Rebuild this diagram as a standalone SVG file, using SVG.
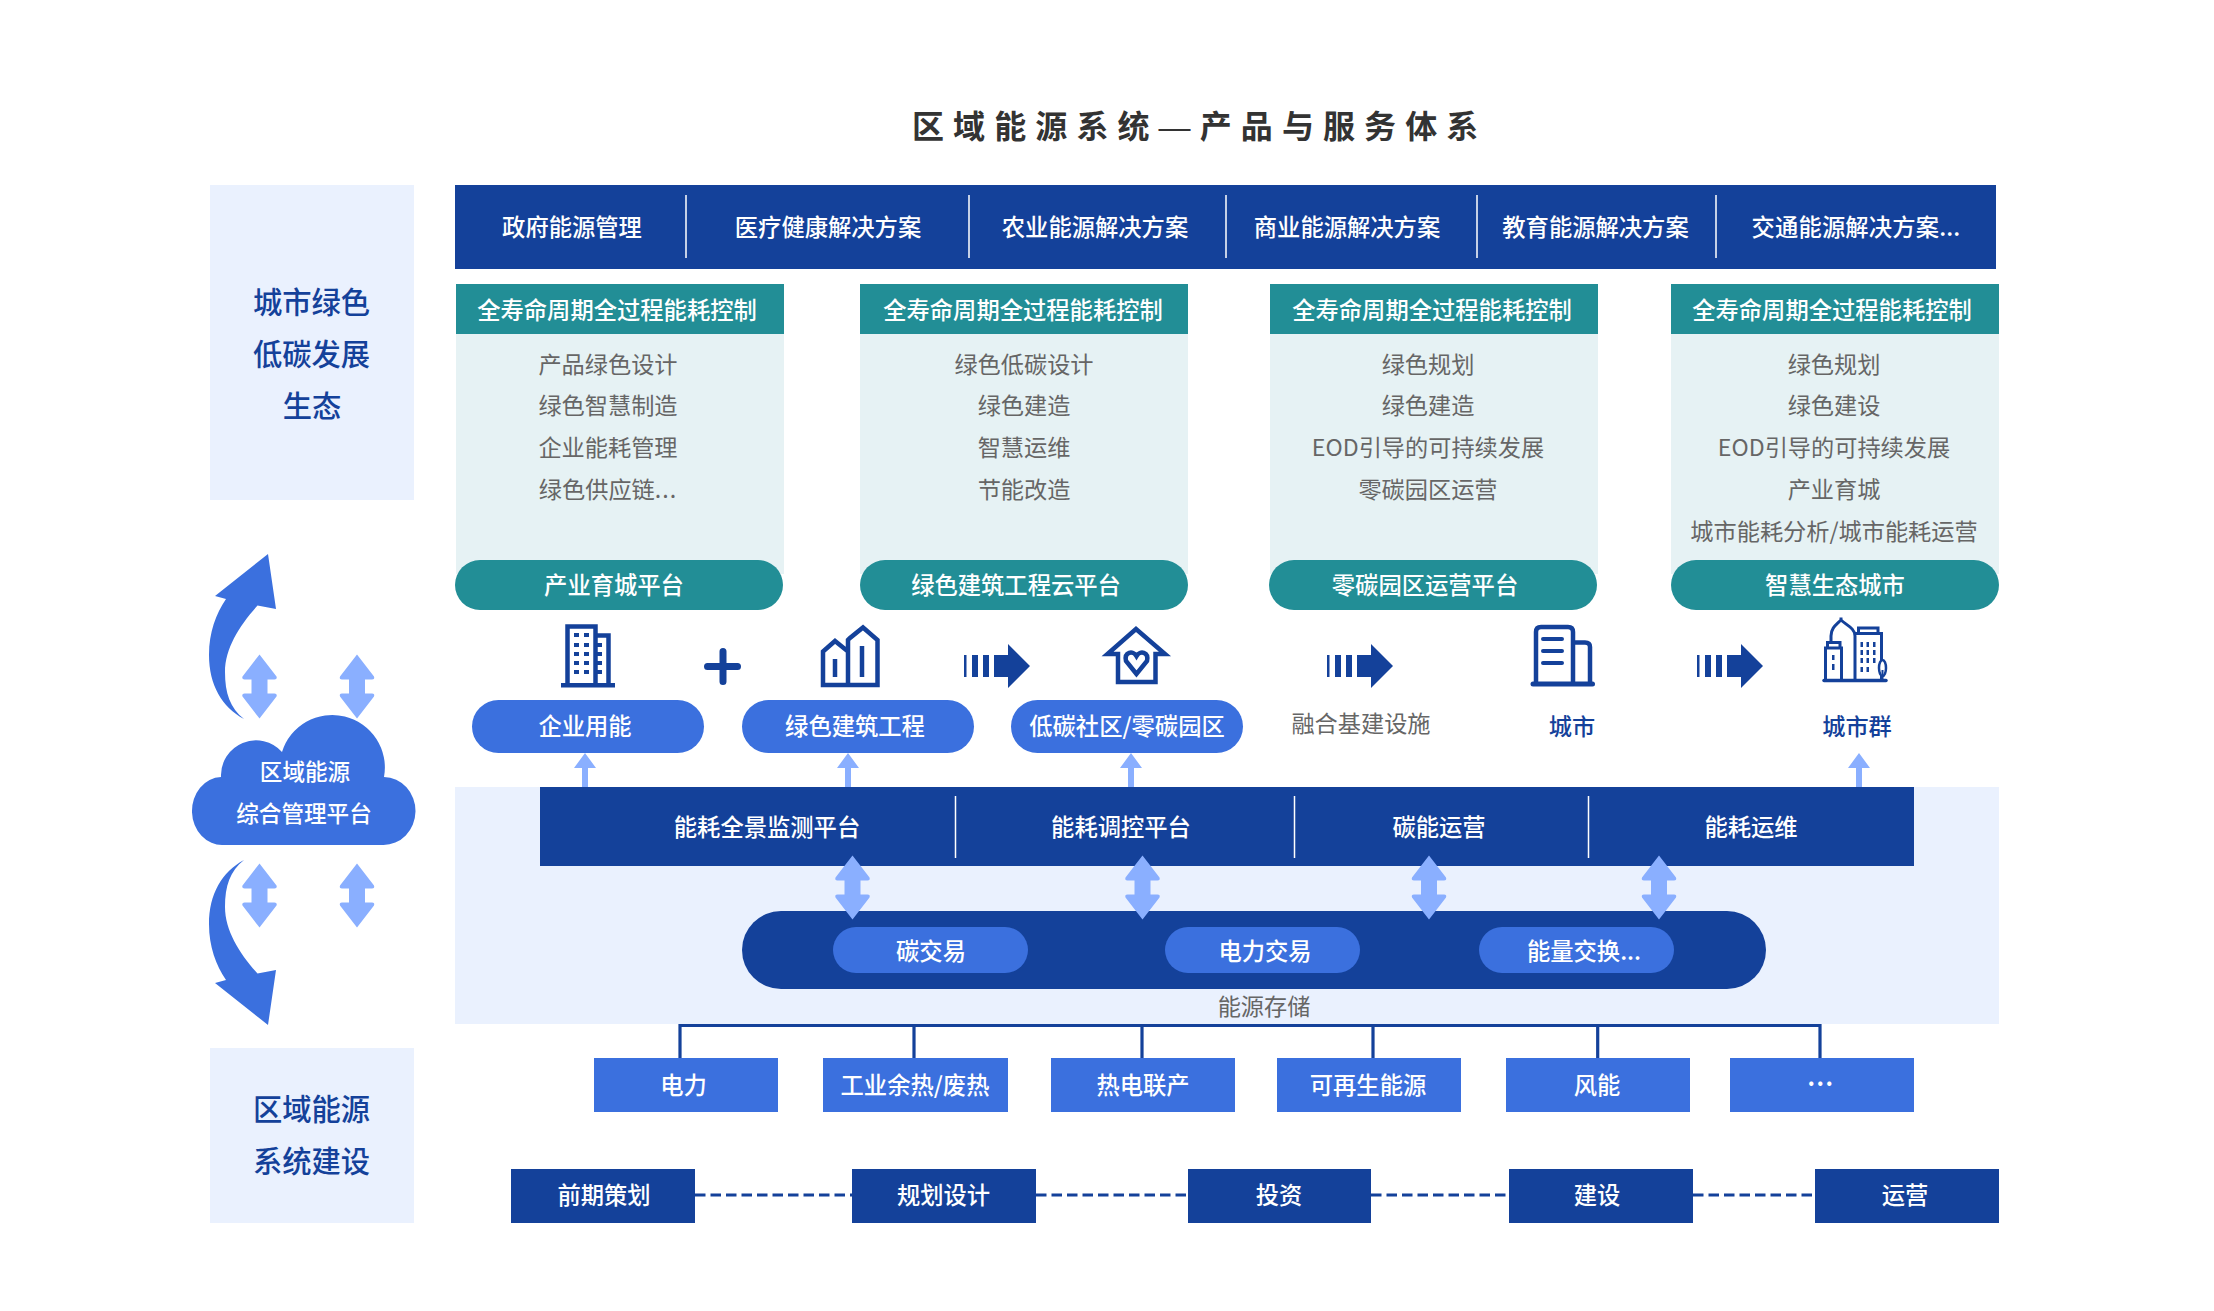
<svg xmlns="http://www.w3.org/2000/svg" width="2214" height="1311" viewBox="0 0 2214 1311">
<style>
text{font-family:"Noto Sans CJK SC","Noto Sans",sans-serif;text-anchor:middle;font-size:23.2px;font-weight:500}
.w{fill:#fff;font-size:22.6px}
.t{fill:#fff;font-size:23.3px}
.g{fill:#666;font-weight:400;font-size:23.2px}
.n{fill:#14419a}
.b{fill:#14419a;font-size:29.3px}
.dk{fill:#14419a}
.md{fill:#3b70de}
.lt{fill:#8aafff}
.tl{fill:#228e96}
.pn{fill:#e6f2f4}
.bg{fill:#eaf1fe}
.sep{stroke:#fff;stroke-width:1.5;fill:none}
.ic{fill:none;stroke:#14419a;stroke-width:4.5}
.ict{fill:none;stroke:#14419a;stroke-width:3}
.con{fill:none;stroke:#14419a;stroke-width:3.2}
.dash{fill:none;stroke:#14419a;stroke-width:3;stroke-dasharray:10.5 5}
</style>
<defs>
<path id="da" d="M0 -32 L17 -10 Q18 -7 15 -7 L8 -7 L8 7 L15 7 Q18 7 17 10 L0 32 L-17 10 Q-18 7 -15 7 L-8 7 L-8 -7 L-15 -7 Q-18 -7 -17 -10 Z" class="lt"/>
<path id="ua" d="M-3 0 V-19 H-11 L0 -34 L11 -19 H3 V0 Z" class="lt"/>
<g id="ar" class="dk"><rect x="0" y="-11" width="2.5" height="22"/><rect x="8" y="-11" width="6" height="22"/><rect x="19" y="-11" width="6" height="22"/><path d="M30 -11 H44 V-22 L66 0 L44 22 V11 H30 Z"/></g>
</defs>
<text x="1199.7" y="137.500" style="font-size:32px;letter-spacing:9.1px;fill:#333;font-weight:700">区域能源系统<tspan style="font-family:'Liberation Sans',sans-serif;font-weight:400">—</tspan>产品与服务体系</text>

<g id="eco"><rect x="210" y="185" width="204" height="315" class="bg"/><text x="311.500" y="312.500" class="b">城市绿色</text><text x="311.500" y="365" class="b">低碳发展</text><text x="312" y="417" class="b">生态</text></g>
<g id="regional"><rect x="210" y="1048" width="204" height="175" class="bg"/><text x="311.500" y="1120" class="b">区域能源</text><text x="311.500" y="1172" class="b">系统建设</text></g>

<g id="solutions"><rect x="455" y="185" width="1541" height="84" class="dk"/>
<path class="sep" d="M686 195V258M969 195V258M1226 195V258M1477 195V258M1716 195V258"/>
<text x="572" y="236" class="t">政府能源管理</text><text x="828" y="236" class="t">医疗健康解决方案</text><text x="1095" y="236" class="t">农业能源解决方案</text><text x="1347" y="236" class="t">商业能源解决方案</text><text x="1595.500" y="236" class="t">教育能源解决方案</text><text x="1856" y="236" class="t" style="letter-spacing:.15px">交通能源解决方案...</text></g>

<g id="panel1"><rect x="456" y="284" width="328" height="290" class="pn"/><rect x="456" y="284" width="328" height="50" class="tl"/><text x="617" y="318.500" class="t">全寿命周期全过程能耗控制</text>
<text x="608" y="373" class="g">产品绿色设计</text><text x="608" y="414" class="g">绿色智慧制造</text><text x="608" y="456" class="g">企业能耗管理</text><text x="608" y="497.500" class="g">绿色供应链<tspan style="letter-spacing:1px">...</tspan></text>
<rect x="455" y="560" width="328" height="50" rx="25" class="tl"/><text x="614" y="593.500" class="t">产业育城平台</text></g>
<g id="panel2"><rect x="860" y="284" width="328" height="290" class="pn"/><rect x="860" y="284" width="328" height="50" class="tl"/><text x="1023" y="318.500" class="t">全寿命周期全过程能耗控制</text>
<text x="1024" y="373" class="g">绿色低碳设计</text><text x="1024" y="414" class="g">绿色建造</text><text x="1024" y="456" class="g">智慧运维</text><text x="1024" y="497.500" class="g">节能改造</text>
<rect x="860" y="560" width="328" height="50" rx="25" class="tl"/><text x="1016" y="593.500" class="t">绿色建筑工程云平台</text></g>
<g id="panel3"><rect x="1270" y="284" width="328" height="290" class="pn"/><rect x="1270" y="284" width="328" height="50" class="tl"/><text x="1432" y="318.500" class="t">全寿命周期全过程能耗控制</text>
<text x="1428" y="373" class="g">绿色规划</text><text x="1428" y="414" class="g">绿色建造</text><text x="1428" y="456" class="g">EOD引导的可持续发展</text><text x="1428" y="497.500" class="g">零碳园区运营</text>
<rect x="1269" y="560" width="328" height="50" rx="25" class="tl"/><text x="1425" y="593.500" class="t">零碳园区运营平台</text></g>
<g id="panel4"><rect x="1671" y="284" width="328" height="290" class="pn"/><rect x="1671" y="284" width="328" height="50" class="tl"/><text x="1832" y="318.500" class="t">全寿命周期全过程能耗控制</text>
<text x="1834" y="373" class="g">绿色规划</text><text x="1834" y="414" class="g">绿色建设</text><text x="1834" y="456" class="g">EOD引导的可持续发展</text><text x="1834" y="497.500" class="g">产业育城</text><text x="1834" y="539.500" class="g">城市能耗分析/城市能耗运营</text>
<rect x="1671" y="560" width="328" height="50" rx="25" class="tl"/><text x="1835" y="593.500" class="t">智慧生态城市</text></g>

<g id="icon-enterprise"><path class="ic" d="M567.500 685V626.500H595.500V685M596 635.500H608.500V685"/><rect x="561" y="683" width="54" height="4.500" class="dk"/><g class="dk"><rect x="574" y="633" width="5" height="4"/><rect x="584" y="633" width="5" height="4"/><rect x="574" y="643" width="5" height="4"/><rect x="584" y="643" width="5" height="4"/><rect x="574" y="652" width="5" height="4"/><rect x="584" y="652" width="5" height="4"/><rect x="574" y="661" width="5" height="4"/><rect x="584" y="661" width="5" height="4"/><rect x="574" y="670" width="5" height="4"/><rect x="584" y="670" width="5" height="4"/><rect x="596" y="643" width="6" height="4"/><rect x="596" y="652" width="6" height="4"/><rect x="596" y="661" width="6" height="4"/><rect x="596" y="670" width="6" height="4"/></g></g>
<g id="plus"><path d="M723 651.500V681.500M707.500 666.500H737.500" stroke="#14419a" stroke-width="7" stroke-linecap="round" fill="none"/></g>
<g id="icon-green"><path class="ic" d="M823 685V651.500L835 641L848 651.500V685ZM848 685H877.500V640L863 627.500L850 638L848 640V651M835 659V677M862 646V677"/></g>
<g id="ar1" transform="translate(964,666)"><use href="#ar"/></g>
<g id="icon-house"><path class="ic" d="M1118 682V654H1107.500L1136 629L1165 654H1155.500V682Z"/><path class="ic" d="M1136.500 674L1126 661C1124 652 1133 650 1136.500 656C1140 650 1149 652 1147 661Z"/></g>
<g id="ar2" transform="translate(1327,666)"><use href="#ar"/></g>
<g id="icon-city"><path class="ic" d="M1536 684V632Q1536 627 1541 627H1568Q1573 627 1573 632V684M1573 642.500H1585Q1590 642.500 1590 647V684"/><path d="M1533 684H1592.500" stroke="#14419a" stroke-width="5" stroke-linecap="round"/><path d="M1543 639H1562M1543 651H1562M1543 663H1562" stroke="#14419a" stroke-width="4" stroke-linecap="round"/></g>
<g id="ar3" transform="translate(1697,666)"><use href="#ar"/></g>
<g id="icon-cluster"><path class="ict" d="M1825.500 680V648H1841.500V680M1827.500 648V642.500H1840V648M1831 642V636C1831 628 1836 625 1841 620C1846 625 1855 628 1855 636V680M1841 620V617.500M1855 633.500H1881.500V680M1858.500 633V628H1878V633M1855 633.500"/><path d="M1824 680.500H1886" stroke="#14419a" stroke-width="3.500" stroke-linecap="round"/><g class="dk"><rect x="1860.500" y="642" width="2.500" height="5"/><rect x="1866.500" y="642" width="2.500" height="5"/><rect x="1873" y="642" width="2.500" height="5"/><rect x="1860.500" y="650" width="2.500" height="5"/><rect x="1866.500" y="650" width="2.500" height="5"/><rect x="1873" y="650" width="2.500" height="5"/><rect x="1860.500" y="658" width="2.500" height="5"/><rect x="1866.500" y="658" width="2.500" height="5"/><rect x="1873" y="658" width="2.500" height="5"/><rect x="1860.500" y="667" width="2.500" height="5"/><rect x="1866.500" y="667" width="2.500" height="5"/><rect x="1832" y="655" width="2.500" height="5"/><rect x="1832" y="664" width="2.500" height="6"/></g><ellipse cx="1882.500" cy="668" rx="3.500" ry="8" fill="#fff" stroke="#14419a" stroke-width="2.500"/><path d="M1882.500 670V680" stroke="#14419a" stroke-width="2"/></g>

<g id="scene1"><rect x="472" y="700" width="232" height="53" rx="26.500" class="md"/><text x="585" y="734.500" class="t">企业用能</text></g>
<g id="scene2"><rect x="742" y="700" width="232" height="53" rx="26.500" class="md"/><text x="855" y="734.500" class="t">绿色建筑工程</text></g>
<g id="scene3"><rect x="1011" y="700" width="232" height="53" rx="26.500" class="md"/><text x="1127" y="734.500" class="t">低碳社区/零碳园区</text></g>
<text x="1361" y="732" class="g">融合基建设施</text>
<text x="1572" y="734.500" class="n">城市</text>
<text x="1857" y="734.500" class="n">城市群</text>

<g id="cloud"><path d="M223 845 A30 34 0 0 1 221 777 A35 35 0 0 1 282 752 A52.600 52.600 0 0 1 384 777 A32 34 0 0 1 383 845 Z" class="md"/><text x="305" y="780" class="w">区域能源</text><text x="304" y="822" class="w">综合管理平台</text></g>
<g id="big-arrows"><path d="M244 719 C222 707 209 685 209 655 C209 632 216 614 226 599 L215 596 L268 554 L276 609 L257.500 605.500 C240 625 225 648 225 672 C225 693 230 708 244 719Z" class="md"/><path d="M244 860 C222 872 209 894 209 924 C209 947 216 965 226 980 L215 983 L268 1025 L276 970 L257.500 973.500 C240 954 225 931 225 907 C225 886 230 871 244 860Z" class="md"/></g>
<g id="connectors-left"><use href="#da" x="259.500" y="686.500"/><use href="#da" x="357" y="686.500"/><use href="#da" x="259.500" y="895.500"/><use href="#da" x="357" y="895.500"/></g>

<g id="energy-bg"><rect x="455" y="787" width="1544" height="237" class="bg"/></g>
<g id="platform"><rect x="540" y="787" width="1374" height="79" class="dk"/><path class="sep" d="M955.500 796V858M1294.500 796V858M1588.500 796V858"/>
<text x="767" y="836" class="t">能耗全景监测平台</text><text x="1121" y="836" class="t">能耗调控平台</text><text x="1439" y="836" class="t">碳能运营</text><text x="1751" y="836" class="t">能耗运维</text></g>
<g id="storage"><rect x="742" y="911" width="1024" height="78" rx="39" class="dk"/>
<rect x="833" y="927" width="195" height="46" rx="23" class="md"/><text x="931" y="959.500" class="t">碳交易</text>
<rect x="1165" y="927" width="195" height="46" rx="23" class="md"/><text x="1265" y="959.500" class="t">电力交易</text>
<rect x="1479" y="927" width="195" height="46" rx="23" class="md"/><text x="1584" y="959.500" class="t">能量交换...</text>
<text x="1264" y="1015" class="g">能源存储</text></g>
<g id="connectors">
<use href="#ua" x="585" y="787"/><use href="#ua" x="848" y="787"/><use href="#ua" x="1131" y="787"/><use href="#ua" x="1859" y="787"/>
<use href="#da" x="852.500" y="887.500"/><use href="#da" x="1142.500" y="887.500"/><use href="#da" x="1429" y="887.500"/><use href="#da" x="1659" y="887.500"/>
<path class="con" d="M680 1059V1025.500H1820V1059M914 1025.500V1059M1142 1025.500V1059M1373 1025.500V1059M1597.700 1025.500V1059"/>
<path class="dash" d="M695 1195H852M1036 1195H1188M1371 1195H1510M1693 1195H1815"/>
</g>
<g id="src1"><rect x="594" y="1058" width="184" height="54" class="md"/><text x="683.500" y="1094" class="t">电力</text></g>
<g id="src2"><rect x="823" y="1058" width="185" height="54" class="md"/><text x="915" y="1094" class="t">工业余热/废热</text></g>
<g id="src3"><rect x="1051" y="1058" width="184" height="54" class="md"/><text x="1143" y="1094" class="t">热电联产</text></g>
<g id="src4"><rect x="1277" y="1058" width="184" height="54" class="md"/><text x="1368" y="1094" class="t">可再生能源</text></g>
<g id="src5"><rect x="1506" y="1058" width="184" height="54" class="md"/><text x="1597" y="1094" class="t">风能</text></g>
<g id="src6"><rect x="1730" y="1058" width="184" height="54" class="md"/><text x="1821" y="1086" class="t" style="font-size:23px;letter-spacing:1.5px;font-weight:700">...</text></g>
<g id="st1"><rect x="511" y="1169" width="184" height="54" class="dk"/><text x="604" y="1203.500" class="t">前期策划</text></g>
<g id="st2"><rect x="852" y="1169" width="184" height="54" class="dk"/><text x="943.500" y="1203.500" class="t">规划设计</text></g>
<g id="st3"><rect x="1188" y="1169" width="183" height="54" class="dk"/><text x="1279" y="1203.500" class="t">投资</text></g>
<g id="st4"><rect x="1509" y="1169" width="184" height="54" class="dk"/><text x="1597" y="1203.500" class="t">建设</text></g>
<g id="st5"><rect x="1815" y="1169" width="184" height="54" class="dk"/><text x="1905" y="1203.500" class="t">运营</text></g>
</svg>
